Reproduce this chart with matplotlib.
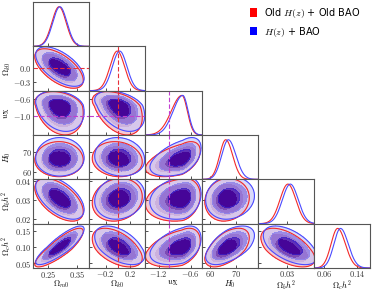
import numpy as np
import matplotlib
matplotlib.use('Agg')
import matplotlib.pyplot as plt
from matplotlib.patches import Patch

plt.rcParams['mathtext.fontset'] = 'cm'
plt.rcParams['font.family'] = ['DejaVu Sans']

# ---------------- data ----------------
param_labels = [r'$\Omega_{m0}$', r'$\Omega_{k0}$', r'$w_{\rm X}$', r'$H_0$',
                r'$\Omega_b h^2$', r'$\Omega_c h^2$']
param_limits = [(0.20, 0.39), (-0.47, 0.45), (-1.45, -0.40), (56.5, 78.5),
                (0.0177, 0.0411), (0.035, 0.172)]
xtick_values = [[0.25, 0.35], [-0.2, 0.2], [-1.2, -0.6], [60, 70], [0.03], [0.06, 0.14]]
xtick_labels = [['0.25', '0.35'], ['-0.2', '0.2'], ['-1.2', '-0.6'], ['60', '70'],
                ['0.03'], ['0.06', '0.14']]
ytick_values = [[], [-0.3, 0.0], [-1.0, -0.6], [60, 70], [0.02, 0.03, 0.04], [0.05, 0.10, 0.15]]
ytick_labels = [[], ['-0.3', '0.0'], ['-1.0', '-0.6'], ['60', '70'],
                ['0.02', '0.03', '0.04'], ['0.05', '0.10', '0.15']]

# Old H(z) + Old BAO (red): mode, left width, right width
old_mode = [0.288, -0.01, -0.765, 66.0, 0.0303, 0.093]
old_left = [0.024, 0.12, 0.200, 2.4, 0.0033, 0.016]
old_right = [0.024, 0.12, 0.100, 2.7, 0.0033, 0.019]
# H(z) + BAO (blue)
new_mode = [0.291, 0.03, -0.750, 67.0, 0.0313, 0.100]
new_left = [0.024, 0.12, 0.180, 2.6, 0.0033, 0.016]
new_right = [0.024, 0.12, 0.100, 3.0, 0.0033, 0.019]
# correlations: Om, Ok, w, H0, Obh2, Och2
corr = [
    [1.00, -0.60, -0.25, 0.00, -0.55, 0.85],
    [-0.60, 1.00, -0.40, -0.10, 0.15, -0.50],
    [-0.25, -0.40, 1.00, 0.50, 0.20, 0.40],
    [0.00, -0.10, 0.50, 1.00, 0.10, 0.55],
    [-0.55, 0.15, 0.20, 0.10, 1.00, -0.55],
    [0.85, -0.50, 0.40, 0.55, -0.55, 1.00],
]
ref_values = {1: 0.0, 2: -1.0}  # Omega_k0 = 0, w_X = -1
ref_colors = {1: '#e8303a', 2: '#c23fd0'}
legend_labels = [r'Old $H(z)$ + Old BAO', r'$H(z)$ + BAO']

# ---------------- styles ----------------
red_fill = ['#f5c8d2', '#d88aa8', '#901050']
blue_fill = [(0.78, 0.78, 0.98, 0.65), (0.45, 0.42, 0.92, 0.65), (0.12, 0.0, 0.75, 0.65)]
red_line = '#f22a2a'
blue_line = '#4a4aff'


def hpd_levels(d, probs):
    s = np.sort(d.ravel())[::-1]
    cs = np.cumsum(s)
    cs /= cs[-1]
    return [s[min(np.searchsorted(cs, p), len(s) - 1)] for p in probs]


def grid(k, n=220):
    lo, hi = param_limits[k]
    w = hi - lo
    return np.linspace(lo - 0.8 * w, hi + 0.8 * w, n)


def ustd(x, k, mode, left, right):
    return np.where(x < mode[k], (x - mode[k]) / left[k], (x - mode[k]) / right[k])


def dens2d(i, j, mode, left, right):
    X, Y = np.meshgrid(grid(j), grid(i))
    zx = ustd(X, j, mode, left, right)
    zy = ustd(Y, i, mode, left, right)
    r = corr[i][j]
    q = (zx ** 2 - 2 * r * zx * zy + zy ** 2) / (1 - r ** 2)
    return X, Y, np.exp(-0.5 * q)


def dens1d(k, mode, left, right):
    lo, hi = param_limits[k]
    xs = np.linspace(lo, hi, 300)
    z = ustd(xs, k, mode, left, right)
    d = np.exp(-0.5 * z ** 2)
    return xs, d / d.max()


n = len(param_labels)
fig = plt.figure(figsize=(3.74, 2.91), dpi=100)
L, R, T, B = 33 / 374, 370 / 374, 1 - 2 / 291, 1 - 268 / 291
gs = fig.add_gridspec(n, n, left=L, right=R, top=T, bottom=B, wspace=0, hspace=0)
ax_w = (R - L) / n * 374
ax_h = (T - B) / n * 291

tick_fs = 6
label_fs = 6.0
datasets = [(old_mode, old_left, old_right, red_fill, red_line),
            (new_mode, new_left, new_right, blue_fill, blue_line)]
for i in range(n):
    for j in range(i + 1):
        ax = fig.add_subplot(gs[i, j])
        if i == j:
            for mode, left, right, fills, lc in datasets:
                xs, d = dens1d(i, mode, left, right)
                ax.plot(xs, d, color=lc, lw=0.8)
            ax.set_ylim(0, 1.12)
            ax.set_yticks([])
            if i in ref_values:
                ax.axvline(ref_values[i], color=ref_colors[i], ls=(0, (4, 2)), lw=0.8)
        else:
            outer = []
            for mode, left, right, fills, lc in datasets:
                X, Y, d = dens2d(i, j, mode, left, right)
                t = hpd_levels(d, [0.68, 0.95, 0.997])
                ax.contourf(X, Y, d, levels=[t[2], t[1], t[0], d.max() * 1.01], colors=fills)
                outer.append((X, Y, d, t[2], lc))
            for X, Y, d, lev, lc in outer:
                ax.contour(X, Y, d, levels=[lev], colors=[lc], linewidths=0.8)
            ax.set_ylim(*param_limits[i])
            ax.set_yticks(ytick_values[i])
            if j in ref_values:
                ax.axvline(ref_values[j], color=ref_colors[j], ls=(0, (4, 2)), lw=0.8)
            if i in ref_values:
                ax.axhline(ref_values[i], color=ref_colors[i], ls=(0, (4, 2)), lw=0.8)
        ax.set_xlim(*param_limits[j])
        ax.set_xticks(xtick_values[j])
        ax.tick_params(direction='in', length=2, width=0.6, labelsize=tick_fs, pad=1.0,
                       colors='#333333')
        if i == n - 1:
            ax.set_xticklabels(['$' + s + '$' for s in xtick_labels[j]])
            ax.set_xlabel(param_labels[j], fontsize=label_fs, va='top')
            ax.xaxis.set_label_coords(0.5, -10.5 / ax_h)
        else:
            ax.set_xticklabels([])
        if j == 0 and i > 0:
            ax.set_yticklabels(['$' + s + '$' for s in ytick_labels[i]])
            ax.set_ylabel(param_labels[i], fontsize=label_fs, va='center')
            ax.yaxis.set_label_coords(-26 / ax_w, 0.5)
        else:
            ax.set_yticklabels([])
        for sp in ax.spines.values():
            sp.set_color('#555555')
            sp.set_linewidth(0.8)

handles = [Patch(facecolor='#ff0000', edgecolor='none'), Patch(facecolor='#0000ff', edgecolor='none')]
fig.legend(handles, legend_labels, loc='upper left', bbox_to_anchor=(244 / 374, 1.0),
           frameon=False, fontsize=7, handlelength=0.7, handleheight=0.9,
           handletextpad=0.8, labelspacing=0.5, borderaxespad=0.2)

fig.savefig('out.png', dpi=100)
